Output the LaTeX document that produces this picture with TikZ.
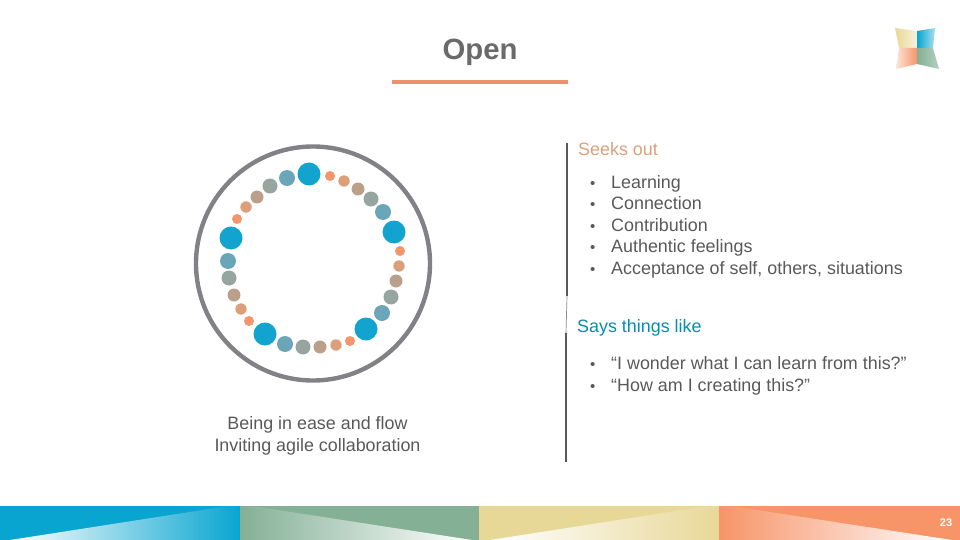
\documentclass[tikz,border=0pt]{standalone}
\usepackage{fontspec}
\setmainfont{Liberation Sans}
\definecolor{tealblue}{HTML}{08A5D0}
\definecolor{sagegreen}{HTML}{84B095}
\definecolor{sandyellow}{HTML}{E8D898}
\definecolor{coral}{HTML}{F79468}
\definecolor{ringgray}{HTML}{828286}
\definecolor{bodygray}{HTML}{595959}
\definecolor{dotbig}{HTML}{12A4CF}
\definecolor{dotsecond}{HTML}{6BA5B8}
\definecolor{dotthird}{HTML}{97A5A0}
\definecolor{dotfourth}{HTML}{BA9F8B}
\definecolor{dotfifth}{HTML}{DB9F7A}
\definecolor{dotsmall}{HTML}{F4956B}
\tikzset{
  bodytext/.style={anchor=base west,inner sep=0pt,text=bodygray,font=\fontsize{17.9}{20}\selectfont},
  bullettext/.style={anchor=base west,inner sep=0pt,text=bodygray,font=\fontsize{15}{20}\selectfont},
  dot/.style={circle,inner sep=0pt,minimum size=#1*2pt}
}
\begin{document}
\begin{tikzpicture}[x=1pt,y=-1pt]
  \useasboundingbox (0,0) rectangle (960,540);

  % Title and its rule
  \node[inner sep=0pt,text=bodygray!90!white,font=\fontsize{29.3}{32}\selectfont\bfseries] (title) at (480,52) {Open};
  \coordinate (ruleleft) at (392,82);
  \coordinate (ruleright) at (568,82);
  \draw[color=coral!90!gray,line width=3.2pt] (ruleleft) -- (ruleright);

  % Logo
  \shade[left color=sandyellow,right color=sandyellow!35!white] (895,28) -- (917,31) -- (917,48) -- (899,48) -- cycle;
  \shade[left color=tealblue,right color=tealblue!35!white] (917,31) -- (935,28) -- (933,48) -- (917,48) -- cycle;
  \shade[left color=sagegreen,right color=sagegreen!60!white] (917,48) -- (933,48) -- (939,69) -- (917,64) -- cycle;
  \shade[left color=coral!25!white,right color=coral] (899,48) -- (917,48) -- (917,64) -- (896,69) -- cycle;

  % Ring
  \draw[ringgray,line width=4.4pt] (313,263.5) circle (117);

  % Dots, big blue ones
  \foreach \px/\py [count=\i] in {309/174,231/238,394/232,265/334,366/329}
    \node[dot=11.5,fill=dotbig] (big\i) at (\px,\py) {};
  % Second size
  \foreach \px/\py [count=\i] in {287/178,383/212,228/261,285/344,382/313}
    \node[dot=8,fill=dotsecond] (second\i) at (\px,\py) {};
  % Third size
  \foreach \px/\py [count=\i] in {270/186,371/199,229/278,303/347,391/297}
    \node[dot=7.5,fill=dotthird] (third\i) at (\px,\py) {};
  % Fourth size
  \foreach \px/\py [count=\i] in {257/197,358/189,234/295,320/347,396/281}
    \node[dot=6.5,fill=dotfourth] (fourth\i) at (\px,\py) {};
  % Fifth size
  \foreach \px/\py [count=\i] in {246/207,344/181,241/309,336/345,399/266}
    \node[dot=5.7,fill=dotfifth] (fifth\i) at (\px,\py) {};
  % Small orange ones
  \foreach \px/\py [count=\i] in {237/219,330/176,249/321,350/341,400/251}
    \node[dot=5,fill=dotsmall] (small\i) at (\px,\py) {};

  % Caption
  \node[bodytext,anchor=base] (captionone) at (317.5,429) {Being in ease and flow};
  \node[bodytext,anchor=base] (captiontwo) at (317.5,451) {Inviting agile collaboration};

  % Divider
  \coordinate (divtop) at (567,143);
  \coordinate (divmid) at (567,296);
  \coordinate (divlow) at (566,333);
  \coordinate (divend) at (566,462);
  \draw[bodygray,line width=1.6pt] (divtop) -- (divmid);
  \draw[bodygray!70!white,line width=.7pt] (divmid) -- (divlow);
  \draw[bodygray,line width=1.6pt] (divlow) -- (divend);

  % Seeks out
  \node[bodytext,text=dotfifth] (seeks) at (578,156) {Seeks out};
  \foreach \txt/\py [count=\i] in {Learning/188,Connection/209,Contribution/231,Authentic feelings/252,{Acceptance of self, others, situations}/274}
  {
    \node[bullettext] (bullet\i) at (590,\py) {•};
    \node[bodytext] (seekitem\i) at (611,\py) {\txt};
  }

  % Says things like
  \node[bodytext,text=tealblue!85!black] (says) at (577,332) {Says things like};
  \node[bullettext] (quotebullet1) at (590,369) {•};
  \node[bodytext] (quoteitem1) at (611,369) {“I wonder what I can learn from this?”};
  \node[bullettext] (quotebullet2) at (590,391) {•};
  \node[bodytext] (quoteitem2) at (611,391) {“How am I creating this?”};

  % Footer bands
  \fill[tealblue] (0,506) rectangle (240,540);
  \fill[sagegreen] (240,506) rectangle (479,540);
  \fill[sandyellow] (479,506) rectangle (719,540);
  \fill[coral] (719,506) rectangle (960,540);
  \shade[left color=white,right color=tealblue] (10,540) -- (228,506) -- (240,506) -- (240,540) -- cycle;
  \shade[left color=sagegreen,right color=white] (240,506) -- (252,506) -- (472,540) -- (240,540) -- cycle;
  \shade[left color=white,right color=sandyellow] (490,540) -- (708,506) -- (719,506) -- (719,540) -- cycle;
  \shade[left color=coral,right color=white] (719,506) -- (731,506) -- (952,540) -- (719,540) -- cycle;
  \node[inner sep=0pt,text=white,font=\fontsize{11}{12}\selectfont\bfseries] (pagenum) at (946,523) {23};
\end{tikzpicture}
\end{document}
